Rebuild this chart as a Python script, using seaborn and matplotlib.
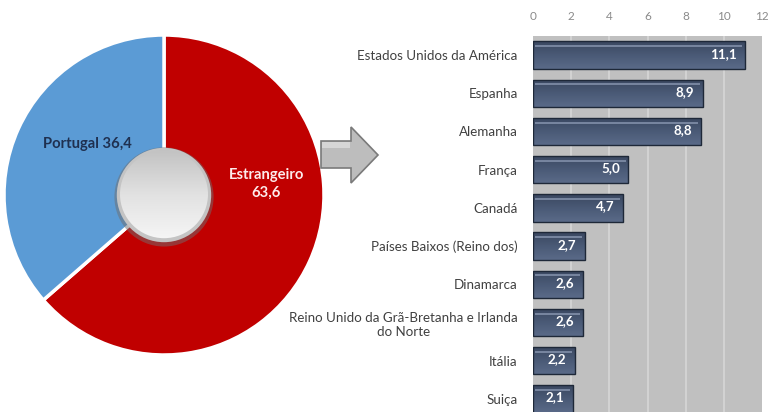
import numpy as np
import matplotlib
matplotlib.use("Agg")
import matplotlib.pyplot as plt
from matplotlib.patches import Circle, Polygon
import seaborn as sns
import pandas as pd

# Share of origin: Portugal vs abroad
origin_labels = ["Estrangeiro", "Portugal"]
origin_values = [63.6, 36.4]

# Foreign countries breakdown
countries = [
    "Estados Unidos da América",
    "Espanha",
    "Alemanha",
    "França",
    "Canadá",
    "Países Baixos (Reino dos)",
    "Dinamarca",
    "Reino Unido da Grã-Bretanha e Irlanda\ndo Norte",
    "Itália",
    "Suiça",
]
country_values = [11.1, 8.9, 8.8, 5.0, 4.7, 2.7, 2.6, 2.6, 2.2, 2.1]
x_ticks = [0, 2, 4, 6, 8, 10, 12]

sns.set_theme(style="white")
plt.rcParams["font.family"] = ["Lato", "DejaVu Sans"]

W, H = 773, 412
fig = plt.figure(figsize=(W / 100, H / 100), dpi=100)
fig.patch.set_facecolor("white")


def px_axes(left, top, right, bottom):
    return fig.add_axes([left / W, 1 - bottom / H, (right - left) / W, (bottom - top) / H])


def fmt(v):
    return f"{v:.1f}".replace(".", ",")


# ---------- Pie (donut with grey hub) ----------
pax = px_axes(4, 35, 324, 355)
wedges, _ = pax.pie(
    origin_values,
    colors=["#C00000", "#5B9BD5"],
    startangle=90,
    counterclock=False,
    radius=1.0,
    wedgeprops=dict(edgecolor="white", linewidth=2.5),
)
pax.set_aspect("equal")
pax.axis("off")

# hub: soft shadow ring + grey gradient disc
pax.add_patch(Circle((0.0, -0.012), 0.31, facecolor="#6f6f6f", edgecolor="none", alpha=0.5, zorder=5))
pax.add_patch(Circle((0.0, 0.0), 0.295, facecolor="#c4c4c4", edgecolor="none", zorder=6))
hub = Circle((0.0, 0.005), 0.275, facecolor="none", edgecolor="none", zorder=7)
pax.add_patch(hub)
grad = np.linspace(1, 0, 256).reshape(-1, 1)
im = pax.imshow(grad, extent=(-0.3, 0.3, -0.3, 0.3), cmap=matplotlib.colors.LinearSegmentedColormap.from_list(
    "hub", ["#c0c0c0", "#e2e2e2", "#f7f7f7"]), origin="lower", zorder=7, aspect="auto")
im.set_clip_path(hub)
pax.set_xlim(-1.0, 1.0)
pax.set_ylim(-1.0, 1.0)

pax.text(-0.48, 0.32, f"Portugal {fmt(origin_values[1])}", ha="center", va="center",
         fontsize=10.6, fontweight="bold", color="#1F3050", zorder=8)
pax.text(0.64, 0.07, f"{origin_labels[0]}\n{fmt(origin_values[0])}", ha="center", va="center",
         fontsize=10.6, fontweight="bold", color="#FDEBEB", linespacing=1.35, zorder=8)

# ---------- Block arrow between the two charts ----------
oax = fig.add_axes([0, 0, 1, 1], facecolor="none")
oax.set_xlim(0, W)
oax.set_ylim(H, 0)
oax.axis("off")
arrow_pts = [(321, 141), (351, 141), (351, 127), (378, 155), (351, 183), (351, 168), (321, 168)]
oax.add_patch(Polygon(arrow_pts, closed=True, facecolor="#BDBDBD", edgecolor="#7a7a7a", linewidth=1.2))
oax.add_patch(Polygon([(322, 142), (350, 142), (350, 148), (322, 148)], closed=True,
                      facecolor="#d6d6d6", edgecolor="none"))

# ---------- Horizontal bar chart ----------
bax = px_axes(533, 36, 762, 418)
df = pd.DataFrame({"country": countries, "value": country_values})
sns.barplot(data=df, y="country", x="value", orient="h", color="#46556F",
            edgecolor="#1E2838", linewidth=1.0, width=0.72, saturation=1, ax=bax)

bax.set_facecolor("#C0C0C0")
bax.set_xlim(0, 12)
bax.set_ylim(len(countries) - 0.5, -0.5)
bax.set_xticks(x_ticks)
bax.set_xticklabels([str(t) for t in x_ticks])
for t in x_ticks[1:-1]:
    bax.axvline(t, color="#D6D6D6", linewidth=1.2, zorder=0)
bax.set_axisbelow(True)
bax.grid(False)
for s in bax.spines.values():
    s.set_visible(False)
bax.set_xlabel("")
bax.set_ylabel("")
bax.xaxis.tick_top()
bax.tick_params(axis="x", top=False, bottom=False, labeltop=True, labelbottom=False,
                length=0, pad=10, labelsize=8.5, labelcolor="#8a8a8a")
bax.tick_params(axis="y", left=False, length=0, pad=11, labelsize=9.6, labelcolor="#404040")
for lab in bax.get_yticklabels():
    lab.set_multialignment("center")

# bar shading: vertical gradient clipped to each bar, plus a thin highlight
bar_cmap = matplotlib.colors.LinearSegmentedColormap.from_list(
    "bar", ["#3A4760", "#4A5A76", "#5A6A88"])
for patch in bax.patches:
    x0, y0 = patch.get_x(), patch.get_y()
    w, h = patch.get_width(), patch.get_height()
    g = bax.imshow(np.linspace(0, 1, 64).reshape(-1, 1), extent=(x0, x0 + w, y0 + h, y0),
                   cmap=bar_cmap, aspect="auto", origin="upper", zorder=patch.get_zorder() + 0.1)
    g.set_clip_path(patch)
    bax.plot([x0 + 0.12, x0 + w - 0.15], [y0 + h * 0.18, y0 + h * 0.18], color="#8C9AB4",
             linewidth=1.3, alpha=0.8, zorder=patch.get_zorder() + 0.2, solid_capstyle="butt")
    patch.set_zorder(patch.get_zorder() + 0.3)
    patch.set_facecolor("none")

bax.set_xlim(0, 12)
bax.set_ylim(len(countries) - 0.5, -0.5)

for i, v in enumerate(country_values):
    bax.annotate(fmt(v), xy=(v, i), xytext=(-6, 1), textcoords="offset points",
                 ha="right", va="center", fontsize=9.6, fontweight="bold", color="white", zorder=10)

fig.savefig("out.png", dpi=100, facecolor="white")
